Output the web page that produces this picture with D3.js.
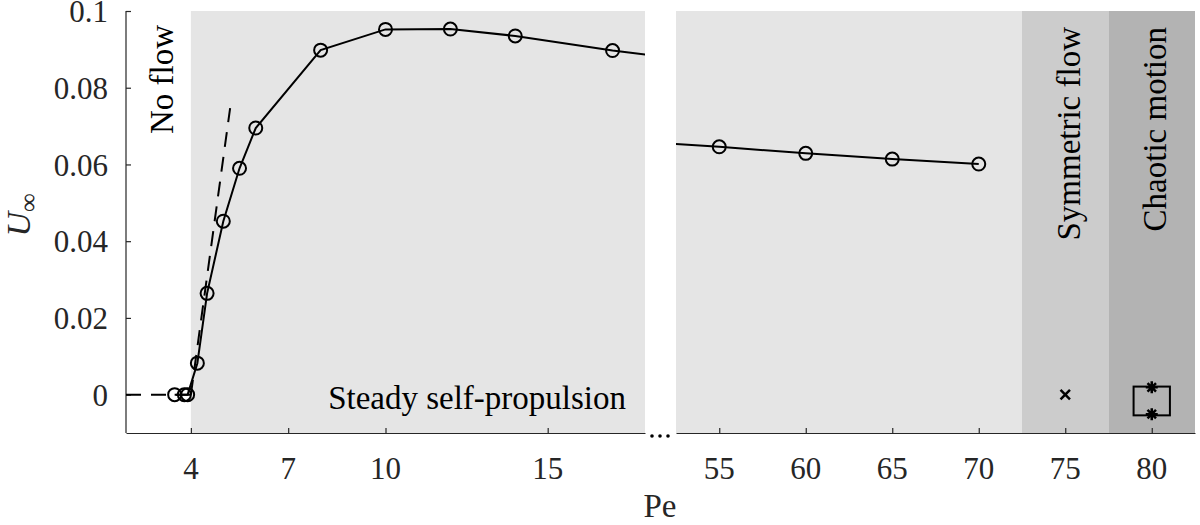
<!DOCTYPE html>
<html><head><meta charset="utf-8">
<script src="https://cdn.jsdelivr.net/npm/d3@7"></script>
<style>
body{margin:0;background:#fff;}
text{font-family:"Liberation Serif","Times New Roman",serif;}
</style></head>
<body><svg id="c" width="1200" height="525"></svg>
<script>
// ---- data ----
const peLeft = [3.5, 3.8, 3.9, 4.2, 4.5, 5.0, 5.5, 6.0, 8, 10, 12, 14, 17, 20];
const uLeft  = [0, 0, 0, 0.0082, 0.0264, 0.0452, 0.0590, 0.0695, 0.0898, 0.0952, 0.0953, 0.0935, 0.0897, 0.0865];
const peRight = [50, 55, 60, 65, 70];
const uRight  = [0.0660, 0.0646, 0.0629, 0.0614, 0.0601];
const dashFlatPe = [2, 4];
const dashFlatU  = [0, 0];
const dashSlopePe = [4, 5.21];
const dashSlopeU  = [0, 0.0747];
const symPe = [75], symU = [0];
const chaosPe = [80, 80], chaosU = [0.0019, -0.0051];
const chaosBoxPe = [78.95, 81.05], chaosBoxU = [0.0021, -0.0054];
const yTicks = [0, 0.02, 0.04, 0.06, 0.08, 0.1];
const yTickLabels = ["0", "0.02", "0.04", "0.06", "0.08", "0.1"];
const xTicksLeft = [4, 7, 10, 15];
const xTicksRight = [55, 60, 65, 70, 75, 80];
const regionsLeft = [{from: 4, to: 18, color: "#e5e5e5"}];
const regionsRight = [
  {from: 52.5, to: 72.5, color: "#e5e5e5"},
  {from: 72.5, to: 77.5, color: "#cccccc"},
  {from: 77.5, to: 82.5, color: "#b3b3b3"}
];

// ---- scales ----
const svg = d3.select("#c");
const y = d3.scaleLinear().domain([-0.01, 0.1]).range([433, 11]);
const xL = d3.scaleLinear().domain([2, 18]).range([126, 645]);
const xR = d3.scaleLinear().domain([52.5, 82.5]).range([676, 1195]);
const axisCol = "#262626";

const defs = svg.append("defs");
defs.append("clipPath").attr("id","clipL").append("rect")
  .attr("x",126).attr("y",0).attr("width",645-126).attr("height",433);
defs.append("clipPath").attr("id","clipR").append("rect")
  .attr("x",676).attr("y",0).attr("width",1195-676).attr("height",433);

// backgrounds
svg.selectAll(".bgL").data(regionsLeft).enter().append("rect")
  .attr("x", d=>xL(d.from)).attr("width", d=>xL(d.to)-xL(d.from))
  .attr("y", y(0.1)).attr("height", y(-0.01)-y(0.1)).attr("fill", d=>d.color);
svg.selectAll(".bgR").data(regionsRight).enter().append("rect")
  .attr("x", d=>xR(d.from)).attr("width", d=>xR(d.to)-xR(d.from))
  .attr("y", y(0.1)).attr("height", y(-0.01)-y(0.1)).attr("fill", d=>d.color);

// axes
const yAxis = d3.axisRight(y).tickValues(yTicks).tickSize(5).tickFormat("");
const gy = svg.append("g").attr("transform","translate(126,0)").call(yAxis);
gy.select(".domain").attr("d", `M0,${y(0.1)}V${y(-0.01)}`);
const gxL = svg.append("g").attr("transform","translate(0,433)")
  .call(d3.axisTop(xL).tickValues(xTicksLeft).tickSize(5).tickFormat("").tickSizeOuter(0));
const gxR = svg.append("g").attr("transform","translate(0,433)")
  .call(d3.axisTop(xR).tickValues(xTicksRight).tickSize(5).tickFormat("").tickSizeOuter(0));
svg.selectAll(".domain, .tick line").attr("stroke", axisCol).attr("stroke-width",1.2);

// tick labels
svg.selectAll(".ylab").data(yTicks).enter().append("text")
  .attr("x",108).attr("y",d=>y(d)).attr("dy","0.36em").attr("text-anchor","end")
  .attr("font-size",31).attr("fill",axisCol).text((d,i)=>yTickLabels[i]);
svg.selectAll(".xlabL").data(xTicksLeft).enter().append("text")
  .attr("x",d=>xL(d)).attr("y",479).attr("text-anchor","middle")
  .attr("font-size",31).attr("fill",axisCol).text(d=>d);
svg.selectAll(".xlabR").data(xTicksRight).enter().append("text")
  .attr("x",d=>xR(d)).attr("y",479).attr("text-anchor","middle")
  .attr("font-size",31).attr("fill",axisCol).text(d=>d);

// break dots
svg.selectAll(".bdot").data([0,1,2]).enter().append("circle")
  .attr("cx",d=>652+d*8).attr("cy",436).attr("r",1.8).attr("fill","#000");

// dashed lines
const line = (xs)=>d3.line().x(d=>xs(d[0])).y(d=>y(d[1]));
const gL = svg.append("g").attr("clip-path","url(#clipL)");
gL.append("path").datum(dashFlatPe.map((p,i)=>[p,dashFlatU[i]]))
  .attr("d", line(xL)).attr("fill","none").attr("stroke","#000").attr("stroke-width",2)
  .attr("stroke-dasharray","15,10");
gL.append("path").datum(dashSlopePe.map((p,i)=>[p,dashSlopeU[i]]))
  .attr("d", line(xL)).attr("fill","none").attr("stroke","#000").attr("stroke-width",2)
  .attr("stroke-dasharray","15,10");

// solid lines + markers
const dL = peLeft.map((p,i)=>[p,uLeft[i]]);
gL.append("path").datum(dL).attr("d", line(xL)).attr("fill","none")
  .attr("stroke","#000").attr("stroke-width",2);
gL.selectAll(".mk").data(dL).enter().append("circle")
  .attr("cx",d=>xL(d[0])).attr("cy",d=>y(d[1])).attr("r",6.5)
  .attr("fill","none").attr("stroke","#000").attr("stroke-width",2);

const gR = svg.append("g").attr("clip-path","url(#clipR)");
const dR = peRight.map((p,i)=>[p,uRight[i]]);
gR.append("path").datum(dR).attr("d", line(xR)).attr("fill","none")
  .attr("stroke","#000").attr("stroke-width",2);
gR.selectAll(".mk").data(dR).enter().append("circle")
  .attr("cx",d=>xR(d[0])).attr("cy",d=>y(d[1])).attr("r",6.5)
  .attr("fill","none").attr("stroke","#000").attr("stroke-width",2);

// symmetric flow x marker
const crossSym = d3.symbol().type(d3.symbolX).size(60);
gR.selectAll(".sx").data(symPe.map((p,i)=>[p,symU[i]])).enter().append("path")
  .attr("transform",d=>`translate(${xR(d[0])},${y(d[1])})`)
  .attr("d", crossSym()).attr("fill","none").attr("stroke","#000").attr("stroke-width",2.5);

// chaotic box
gR.append("rect")
  .attr("x", xR(chaosBoxPe[0])).attr("width", xR(chaosBoxPe[1])-xR(chaosBoxPe[0]))
  .attr("y", y(chaosBoxU[0])).attr("height", y(chaosBoxU[1])-y(chaosBoxU[0]))
  .attr("fill","none").attr("stroke","#000").attr("stroke-width",2);
// asterisks
const ast = (cx,cy,r)=>{
  let s="";
  for(let k=0;k<4;k++){const a=k*Math.PI/4; s+=`M${cx-r*Math.cos(a)},${cy-r*Math.sin(a)}L${cx+r*Math.cos(a)},${cy+r*Math.sin(a)}`;}
  return s;
};
gR.selectAll(".ast").data(chaosPe.map((p,i)=>[p,chaosU[i]])).enter().append("path")
  .attr("d",d=>ast(xR(d[0]),y(d[1]),6)).attr("stroke","#000").attr("stroke-width",2.5);

// region labels
svg.append("text").attr("transform",`translate(173,25) rotate(-90)`)
  .attr("text-anchor","end").attr("font-size",33).attr("fill","#000").text("No flow");
svg.append("text").attr("transform",`translate(1080,27) rotate(-90)`)
  .attr("text-anchor","end").attr("font-size",33).attr("fill","#000").text("Symmetric flow");
svg.append("text").attr("transform",`translate(1166,27) rotate(-90)`)
  .attr("text-anchor","end").attr("font-size",33).attr("fill","#000").text("Chaotic motion");
svg.append("text").attr("x",626).attr("y",409).attr("text-anchor","end")
  .attr("font-size",33).attr("fill","#000").text("Steady self-propulsion");

// axis labels
svg.append("text").attr("x",660).attr("y",517).attr("text-anchor","middle")
  .attr("font-size",33).attr("fill",axisCol).text("Pe");
const yl = svg.append("text").attr("transform","translate(30,215) rotate(-90)")
  .attr("text-anchor","middle").attr("fill",axisCol);
yl.append("tspan").attr("font-style","italic").attr("font-size",34).text("U");
yl.append("tspan").attr("font-size",26).attr("dy",7).text("∞");
</script></body></html>
